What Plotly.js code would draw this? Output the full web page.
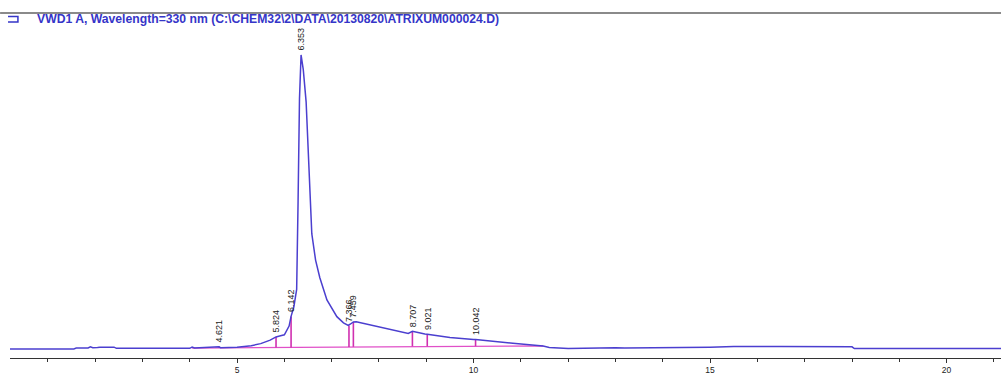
<!DOCTYPE html>
<html><head><meta charset="utf-8">
<script src="https://cdn.plot.ly/plotly-3.0.1.min.js"></script>
<style>html,body{margin:0;padding:0;background:#fff}#chart{width:1001px;height:376px}</style>
</head><body><div id="chart"></div>
<script>
// Signal (VWD1 A, 330 nm), time in min, arbitrary response units
const sigX = [0.2,1.0,1.55,1.6,1.85,1.9,1.95,2.05,2.1,2.4,2.45,4.0,4.05,4.1,4.6,4.62,4.65,5.0,5.3,5.5,5.7,5.824,5.9,6.0,6.1,6.142,6.2,6.26,6.29,6.32,6.353,6.4,6.46,6.5,6.54,6.58,6.66,6.75,6.9,7.11,7.25,7.35,7.4,7.459,7.52,7.6,7.74,8.0,8.3,8.62,8.707,8.8,8.97,9.021,9.5,10.0,10.042,10.83,11.47,11.6,12.0,13.0,13.2,15.0,15.5,16.5,17.0,18.0,18.05,21.15];
const sigY = [-0.3,-0.3,-0.3,0.0,0.0,0.4,0.1,0.2,0.3,0.3,-0.1,-0.1,0.3,0.0,0.2,0.4,0.1,0.3,0.8,1.5,2.7,3.8,4.1,4.5,7.5,10.8,14,20,50,85,100,95,84,68,50.5,39,30,24,16.4,10.7,8.6,7.7,8.2,8.9,9.0,8.7,8.4,7.3,6.1,5.0,5.7,5.3,4.8,4.7,3.6,2.9,2.9,1.6,0.7,0.2,-0.2,0.1,0.0,0.3,0.5,0.5,0.4,0.4,-0.2,-0.2];
// Integration baseline
const baseX = [4.05,6.2,7.4,9.0,11.47];
const baseY = [0.0,0.2,0.4,0.6,0.7];
// Integrated peaks
const peakTimes = [4.621,5.824,6.142,6.353,7.366,7.459,8.707,9.021,10.042];
const peakHeights = [0.4,3.8,10.8,100,7.7,8.9,5.7,4.7,2.9];
const peakLabels = ["4.621","5.824","6.142","6.353","7.366","7.459","8.707","9.021","10.042"];
const peakDrop = [1,1,1,0,1,1,1,1,1];
const xTickVals = [5,10,15,20];
const xTickText = ["5","10","15","20"];
const titleText = "VWD1 A, Wavelength=330 nm (C:\\CHEM32\\2\\DATA\\20130820\\ATRIXUM000024.D)";

function baseAt(t){
  if (t <= baseX[0]) return baseY[0];
  for (let i=1;i<baseX.length;i++){
    if (t <= baseX[i]){
      const f=(t-baseX[i-1])/(baseX[i]-baseX[i-1]);
      return baseY[i-1]+f*(baseY[i]-baseY[i-1]);
    }
  }
  return baseY[baseY.length-1];
}
const dropX=[], dropY=[];
peakTimes.forEach((t,i)=>{ if(peakDrop[i]){ dropX.push(t,t,null); dropY.push(baseAt(t),peakHeights[i],null); } });

const traces = [
  {x: baseX, y: baseY, mode:'lines', line:{color:'#e050c8', width:1.3}, hoverinfo:'skip'},
  {x: dropX, y: dropY, mode:'lines', line:{color:'#d030b0', width:1.6}, hoverinfo:'skip'},
  {x: sigX, y: sigY, mode:'lines', line:{color:'#4b3fcf', width:1.5}, hoverinfo:'skip'}
];

const annotations = peakTimes.map((t,i)=>({
  x:t, y:peakHeights[i], xref:'x', yref:'y', text:peakLabels[i], showarrow:false,
  textangle:-90, xanchor:'center', yanchor:'bottom', yshift:2,
  font:{family:'Liberation Sans, Arial, sans-serif', size:9, color:'#222'}
}));
annotations.push({
  x:0.025, y:0.983, xref:'paper', yref:'paper', text:titleText, showarrow:false,
  xanchor:'left', yanchor:'middle',
  font:{family:'Liberation Sans, Arial, sans-serif', size:12.2, color:'#3535c8', weight:'bold'}
});

const layout = {
  width:1001, height:376,
  margin:{l:10, r:0, t:13, b:18},
  paper_bgcolor:'#ffffff', plot_bgcolor:'#ffffff',
  showlegend:false,
  xaxis:{range:[0.2,21.15], showgrid:false, zeroline:false, showline:true, linecolor:'#333', linewidth:1,
    ticks:'outside', ticklen:4, tickcolor:'#333', tickvals:xTickVals, ticktext:xTickText,
    tickfont:{family:'Liberation Sans, Arial, sans-serif', size:8.5, color:'#222'},
    minor:{dtick:1, tick0:0, ticks:'outside', ticklen:3, tickcolor:'#333', showgrid:false}},
  yaxis:{range:[-3.4,114.3], visible:false, showgrid:false, zeroline:false},
  shapes:[
    {type:'line', xref:'paper', yref:'paper', x0:-0.01, x1:1, y0:1, y1:1, line:{color:'#8a8a8a', width:2}},
    {type:'path', xref:'paper', yref:'paper', path:'M -0.002 0.99 L 0.008 0.99 L 0.008 0.974 L -0.002 0.974', line:{color:'#3535c8', width:1.5}}
  ],
  annotations: annotations
};
Plotly.newPlot('chart', traces, layout, {displayModeBar:false, staticPlot:true});
</script></body></html>
